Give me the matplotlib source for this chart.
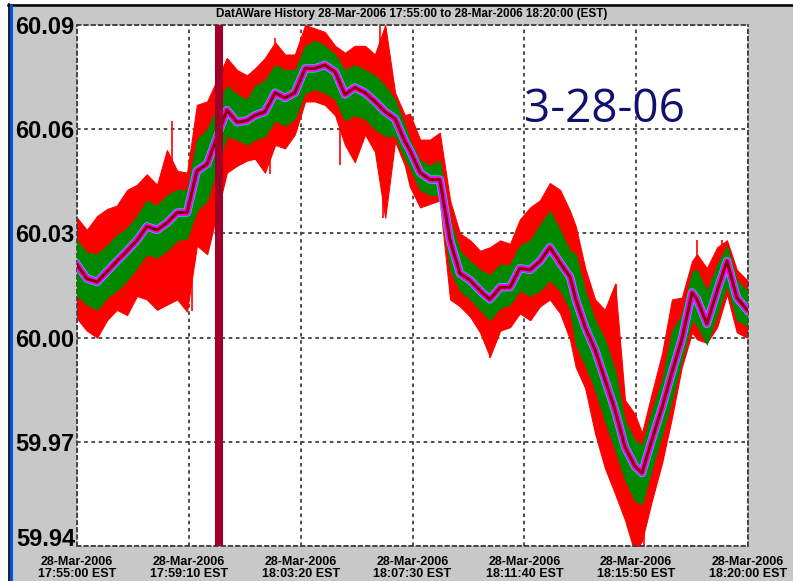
import matplotlib
matplotlib.use("Agg")
import matplotlib.pyplot as plt
from matplotlib.patches import Rectangle
from matplotlib.lines import Line2D

# seconds after 17:55:00
times_s = [0, 22, 45, 67, 89, 112, 134, 156, 179, 201, 224, 246, 268, 291,
           335, 358, 380, 398, 420, 443, 465, 487, 510, 532, 554, 577, 599,
           621, 644, 666, 689, 711, 733, 744, 767, 789, 811, 834, 856, 879,
           901, 923, 946, 968, 990, 1013, 1035, 1057, 1080, 1102, 1115, 1136,
           1158, 1180, 1203, 1225, 1247, 1263, 1285, 1308, 1330, 1352, 1375,
           1386, 1408, 1431, 1453, 1475, 1498]

# frequency (Hz): centre trace and the envelopes of the red / green traces
center = [60.021, 60.017, 60.016, 60.019, 60.022, 60.025, 60.028, 60.032, 60.031,
          60.033, 60.036, 60.036, 60.048, 60.050, 60.0655, 60.062, 60.0625,
          60.064, 60.065, 60.0705, 60.069, 60.0705, 60.0775, 60.0775, 60.0785,
          60.0765, 60.070, 60.072, 60.0705, 60.068, 60.065, 60.063, 60.0565,
          60.054, 60.0475, 60.0455, 60.0455, 60.028, 60.0185, 60.0165, 60.0135,
          60.011, 60.0145, 60.0145, 60.020, 60.0195, 60.022, 60.026, 60.0215,
          60.0175, 60.011, 60.003, 59.9965, 59.988, 59.979, 59.9685, 59.963,
          59.961, 59.9705, 59.980, 59.990, 59.9995, 60.013, 60.011, 60.004,
          60.0135, 60.022, 60.0115, 60.008]
red_hi = [60.0345, 60.031, 60.035, 60.037, 60.038, 60.0425, 60.044, 60.047, 60.044,
          60.054, 60.048, 60.0475, 60.067, 60.068, 60.0805, 60.077, 60.0755,
          60.0775, 60.0805, 60.085, 60.0815, 60.0815, 60.090, 60.089, 60.088,
          60.084, 60.082, 60.084, 60.084, 60.0815, 60.090, 60.0705, 60.064,
          60.0645, 60.057, 60.057, 60.059, 60.0395, 60.030, 60.028, 60.025,
          60.026, 60.028, 60.027, 60.034, 60.0375, 60.0395, 60.0445, 60.0425,
          60.0365, 60.032, 60.020, 60.011, 60.008, 60.0155, 59.982, 59.978,
          59.9725, 59.984, 59.9955, 60.011, 60.0115, 60.022, 60.024, 60.020,
          60.026, 60.028, 60.0195, 60.0165]
red_lo = [60.0055, 60.002, 60.000, 60.005, 60.008, 60.0065, 60.012, 60.011, 60.008,
          60.0095, 60.011, 60.0075, 60.0265, 60.024, 60.0475, 60.0495, 60.051,
          60.0515, 60.0475, 60.0555, 60.0545, 60.0585, 60.068, 60.068, 60.067,
          60.064, 60.0555, 60.0505, 60.0585, 60.0535, 60.0345, 60.0565, 60.0495,
          60.0435, 60.0375, 60.0385, 60.0395, 60.011, 60.009, 60.006, 60.0015,
          59.9945, 60.002, 60.003, 60.007, 60.005, 60.009, 60.011, 60.007,
          59.9995, 59.9915, 59.9855, 59.9725, 59.9625, 59.955, 59.9475, 59.938,
          59.9415, 59.953, 59.964, 59.977, 59.9915, 60.0015, 59.9995, 59.9985,
          60.003, 60.0125, 60.0015, 60.000]
green_hi = [60.028, 60.0245, 60.024, 60.0265, 60.0295, 60.0315, 60.035, 60.0395,
            60.038, 60.041, 60.0425, 60.0425, 60.057, 60.060, 60.0725, 60.070,
            60.0685, 60.0725, 60.074, 60.0785, 60.077, 60.077, 60.084, 60.0855,
            60.084, 60.0815, 60.077, 60.0785, 60.077, 60.0755, 60.0725, 60.0685,
            60.061, 60.057, 60.051, 60.0495, 60.051, 60.034, 60.025, 60.022,
            60.0195, 60.018, 60.021, 60.021, 60.0265, 60.028, 60.0325, 60.0365,
            60.031, 60.025, 60.024, 60.0135, 60.005, 59.9995, 59.9905, 59.976,
            59.9705, 59.969, 59.979, 59.988, 60.002, 60.0065, 60.019, 60.0195,
            60.0135, 60.021, 60.0265, 60.0165, 60.0135]
green_lo = [60.012, 60.0095, 60.008, 60.0115, 60.0135, 60.0165, 60.020, 60.024,
            60.023, 60.025, 60.028, 60.0285, 60.0365, 60.0395, 60.058, 60.057,
            60.0555, 60.057, 60.058, 60.0625, 60.061, 60.063, 60.0705, 60.0715,
            60.0705, 60.0685, 60.0625, 60.064, 60.063, 60.060, 60.058, 60.058,
            60.0515, 60.049, 60.0425, 60.041, 60.041, 60.0195, 60.0135, 60.011,
            60.008, 60.005, 60.0085, 60.0095, 60.0135, 60.012, 60.0135, 60.0165,
            60.0135, 60.008, 59.998, 59.992, 59.985, 59.976, 59.9675, 59.959,
            59.953, 59.952, 59.962, 59.972, 59.982, 59.9935, 60.005, 60.0035,
            59.998, 60.0065, 60.015, 60.005, 60.0035]

# single red spikes that stick out of the band: time, low, high
spike_t = [212, 257, 431, 443, 588, 678, 684, 923, 1205, 1252, 1268, 1386, 1442]
spike_lo = [60.030, 60.0076, 60.047, 60.080, 60.0497, 60.060, 60.0345, 59.994,
            59.990, 59.940, 59.940, 60.020, 60.020]
spike_hi = [60.0625, 60.030, 60.055, 60.0862, 60.060, 60.090, 60.060, 60.010,
            60.0155, 59.960, 59.955, 60.028, 60.028]

event_t = 317  # marker bar, about 18:00:17

tick_s = [0, 250, 500, 750, 1000, 1250, 1500]
tick_labels = ["28-Mar-2006\n17:55:00 EST", "28-Mar-2006\n17:59:10 EST",
               "28-Mar-2006\n18:03:20 EST", "28-Mar-2006\n18:07:30 EST",
               "28-Mar-2006\n18:11:40 EST", "28-Mar-2006\n18:15:50 EST",
               "28-Mar-2006\n18:20:00 EST"]
y_ticks = [59.94, 59.97, 60.00, 60.03, 60.06, 60.09]

fig = plt.figure(figsize=(7.93, 5.81), dpi=100, facecolor="#c8c8c8")
ax = fig.add_axes([77 / 793, 1 - 546 / 581, 671 / 793, 521 / 581])
ax.set_facecolor("white")

ax.fill_between(times_s, red_lo, red_hi, color="#ff0000", lw=0.8, zorder=2)
ax.vlines(spike_t, spike_lo, spike_hi, color="#ff0000", lw=1.2, zorder=2)
ax.fill_between(times_s, green_lo, green_hi, color="#008800", lw=0.6, zorder=3)
ax.plot(times_s, center, color="#00e8e8", lw=6, zorder=4)
ax.plot(times_s, center, color="#ff00ff", lw=5, zorder=5)
ax.plot(times_s, center, color="#800000", lw=2.2, zorder=6)

ax.axvline(event_t, ymin=0.006, ymax=1, color="#a00028", lw=5.8, zorder=7)

ax.set_xlim(0, 1500)
ax.set_ylim(59.94, 60.09)
ax.set_xticks(tick_s)
ax.set_xticklabels(tick_labels, fontsize=9, fontweight="bold",
                   family="Liberation Sans", linespacing=1.0)
ax.set_yticks(y_ticks)
# bottom label sits a little higher than its grid line, drawn separately below
ax.set_yticklabels([""] + [f"{v:.2f}" for v in y_ticks[1:]], fontsize=17,
                   fontweight="bold", family="Liberation Sans")
ax.annotate(f"{y_ticks[0]:.2f}", xy=(0, y_ticks[0]),
            xycoords=("axes fraction", "data"), xytext=(-1.5, 4.5),
            textcoords="offset points", ha="right", va="center", fontsize=17,
            fontweight="bold", family="Liberation Sans")
ax.tick_params(length=0, pad=2)
ax.tick_params(axis="x", pad=7)
ax.grid(True, color="#404040", ls=(0, (2, 2)), lw=1.3)
for s in ax.spines.values():
    s.set_color("#404040")
    s.set_linestyle((0, (2, 2)))
    s.set_linewidth(1.3)

fig.text(412 / 793, 1 - 14 / 581,
         "DatAWare History 28-Mar-2006 17:55:00 to 28-Mar-2006 18:20:00 (EST)",
         ha="center", va="center", fontsize=8.5, fontweight="bold",
         family="Liberation Sans")
fig.text(524 / 793, 1 - 122 / 581, "3-28-06", ha="left", va="baseline",
         fontsize=33, color="#10106e", family="Open Sans")

# window frame on the left and top
fig.add_artist(Rectangle((0, 0), 8 / 793, 1, transform=fig.transFigure,
                         color="white", lw=0))
fig.add_artist(Rectangle((0, 1 - 4 / 581), 1, 4 / 581,
                         transform=fig.transFigure, color="white", lw=0))
fig.add_artist(Line2D([8 / 793, 1], [1 - 5 / 581, 1 - 5 / 581],
                      transform=fig.transFigure, color="black", lw=1.8))
fig.add_artist(Line2D([8.5 / 793, 8.5 / 793], [0, 1 - 4 / 581],
                      transform=fig.transFigure, color="black", lw=1.2))
fig.add_artist(Line2D([11 / 793, 11 / 793], [0, 1 - 6 / 581],
                      transform=fig.transFigure, color="#0050f0", lw=2.2))

fig.savefig("out.png", dpi=100, facecolor=fig.get_facecolor())
